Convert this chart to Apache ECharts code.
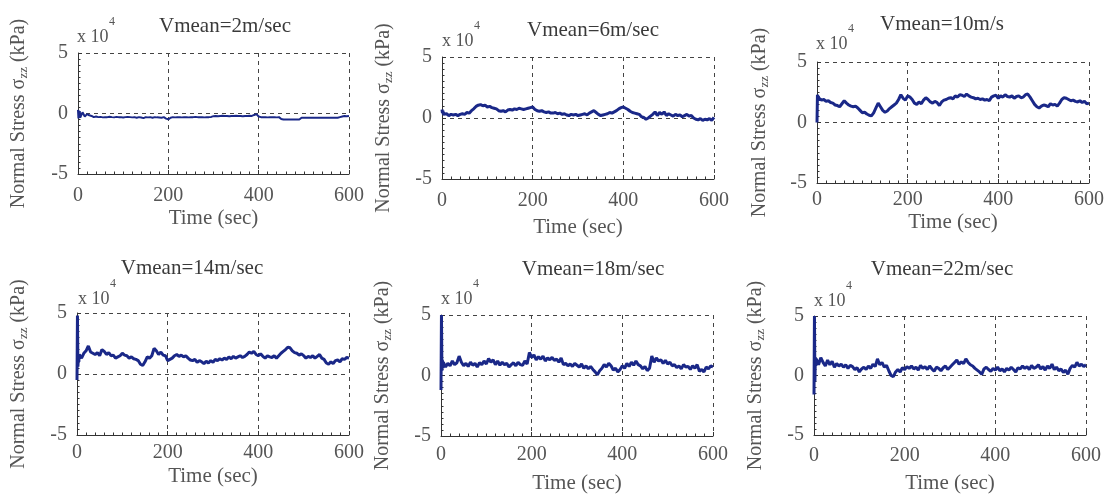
<!DOCTYPE html>
<html><head><meta charset="utf-8">
<script src="https://cdn.jsdelivr.net/npm/echarts/dist/echarts.min.js"></script>
<style>html,body{margin:0;padding:0;background:#fff;}#c{width:1107px;height:495px;}</style>
</head><body><div id="c"></div>
<script>
// time samples (sec)
const times = [0,1,2,3,4,
 5,10,15,20,25,30,35,40,45,50,55,60,
 65,70,75,80,85,90,95,100,105,110,115,120,
 125,130,135,140,145,150,155,160,165,170,175,180,
 185,190,195,200,205,210,215,220,225,230,235,240,
 245,250,255,260,265,270,275,280,285,290,295,300,
 305,310,315,320,325,330,335,340,345,350,355,360,
 365,370,375,380,385,390,395,400,405,410,415,420,
 425,430,435,440,445,450,455,460,465,470,475,480,
 485,490,495,500,505,510,515,520,525,530,535,540,
 545,550,555,560,565,570,575,580,585,590,595,600];

const titles = ['Vmean=2m/sec','Vmean=6m/sec','Vmean=10m/s','Vmean=14m/sec','Vmean=18m/sec','Vmean=22m/sec'];
const xTickValues = [0,200,400,600];
const yTickValues = [-5,0,5];

// normal stress, in units of 10^4 kPa
const v2 = [0.3,-0.4,0.25,-0.3,0.2,
 -0.35,0.1,-0.25,-0.05,-0.15,-0.2,-0.3,-0.25,-0.3,-0.28,-0.32,-0.3,
 -0.3,-0.27,-0.3,-0.32,-0.28,-0.3,-0.3,-0.33,-0.3,-0.28,-0.3,-0.32,
 -0.3,-0.35,-0.3,-0.33,-0.38,-0.3,-0.32,-0.3,-0.35,-0.3,-0.32,-0.33,
 -0.35,-0.3,-0.42,-0.48,-0.35,-0.3,-0.32,-0.3,-0.3,-0.32,-0.3,-0.3,
 -0.32,-0.3,-0.3,-0.28,-0.3,-0.3,-0.3,-0.32,-0.3,-0.3,-0.28,-0.22,
 -0.2,-0.22,-0.2,-0.18,-0.2,-0.2,-0.22,-0.2,-0.2,-0.18,-0.2,-0.2,
 -0.22,-0.2,-0.2,-0.18,-0.2,-0.12,-0.05,-0.25,-0.3,-0.3,-0.3,-0.32,
 -0.3,-0.3,-0.3,-0.32,-0.3,-0.45,-0.5,-0.5,-0.5,-0.5,-0.5,-0.5,
 -0.5,-0.5,-0.35,-0.35,-0.35,-0.35,-0.35,-0.35,-0.35,-0.35,-0.35,-0.35,
 -0.35,-0.35,-0.35,-0.35,-0.35,-0.35,-0.35,-0.3,-0.25,-0.2,-0.22,-0.2];
const v6 = [0.7,0.4,0.6,0.3,0.45,
 0.3,0.35,0.2,0.3,0.25,0.3,0.2,0.3,0.35,0.3,0.45,0.4,
 0.6,0.75,0.95,1.05,1.1,1.0,1.05,0.9,0.95,0.85,0.8,0.75,
 0.6,0.55,0.6,0.5,0.65,0.7,0.65,0.75,0.7,0.8,0.75,0.7,
 0.75,0.8,0.85,0.9,0.7,0.6,0.55,0.6,0.5,0.45,0.5,0.4,
 0.4,0.45,0.35,0.4,0.3,0.35,0.25,0.2,0.3,0.25,0.3,0.2,
 0.25,0.3,0.35,0.25,0.4,0.5,0.6,0.45,0.3,0.2,0.25,0.3,
 0.35,0.45,0.4,0.5,0.6,0.75,0.85,0.9,0.8,0.7,0.55,0.45,
 0.4,0.35,0.3,0.1,0.05,-0.1,0.0,0.15,0.3,0.5,0.2,0.45,
 0.3,0.5,0.2,0.35,0.25,0.15,0.3,0.2,0.25,0.1,0.2,0.3,
 0.15,0.2,0.0,-0.1,-0.15,-0.05,-0.2,-0.1,-0.15,-0.05,-0.2,0.05];
const v10 = [0.0,2.3,1.9,2.2,1.8,
 2.0,1.85,1.9,1.75,1.8,1.65,1.6,1.45,1.4,1.3,1.55,1.8,
 1.6,1.45,1.35,1.3,1.35,1.2,1.0,0.8,0.85,0.7,0.6,0.55,
 0.8,1.2,1.6,1.3,1.0,0.85,0.95,1.15,1.3,1.45,1.6,1.9,
 2.3,2.0,1.85,2.2,2.1,1.9,1.6,1.5,1.7,1.55,1.85,2.05,
 1.9,1.7,1.6,1.75,1.65,1.4,1.7,1.85,1.9,2.0,2.05,1.95,
 2.2,2.1,2.3,2.25,2.15,2.35,2.2,2.1,2.05,1.95,2.0,1.9,
 1.95,1.85,1.9,1.8,2.1,2.2,2.25,2.0,2.2,2.1,2.3,2.15,
 2.1,2.2,2.0,2.15,2.2,2.05,2.1,2.3,2.35,2.1,1.8,1.5,
 1.3,1.2,1.35,1.45,1.4,1.3,1.55,1.45,1.5,1.35,1.6,1.9,
 2.05,2.0,1.9,1.8,1.85,1.75,1.7,1.8,1.65,1.75,1.55,1.6];
const v14 = [-0.5,4.8,0.6,1.4,1.0,
 1.6,1.3,1.7,1.9,2.3,1.8,1.7,1.6,1.75,1.5,2.0,1.85,
 1.6,1.75,1.5,1.55,1.3,1.4,1.5,1.7,1.55,1.5,1.3,1.4,
 1.25,1.2,1.1,0.8,0.7,1.0,1.4,1.3,1.5,2.1,1.9,1.6,
 1.8,1.55,1.5,1.1,1.2,1.3,1.5,1.6,1.45,1.55,1.4,1.5,
 1.3,1.15,1.1,1.2,0.95,1.1,1.0,0.85,1.05,0.9,1.1,0.95,
 1.2,1.1,1.25,1.15,1.3,1.2,1.4,1.25,1.45,1.3,1.4,1.5,
 1.35,1.45,1.6,1.8,1.7,1.85,1.6,1.5,1.65,1.45,1.3,1.5,
 1.4,1.35,1.5,1.3,1.5,1.7,1.85,2.0,2.2,2.15,1.9,1.75,
 1.7,1.55,1.65,1.5,1.3,1.45,1.35,1.5,1.3,1.45,1.6,1.3,
 1.2,0.9,0.8,1.0,0.85,1.1,1.15,1.0,1.25,1.2,1.35,1.3];
const v18 = [-1.2,5.0,0.4,1.3,0.6,
 1.1,0.7,1.0,0.8,1.2,0.9,1.05,1.6,1.1,0.8,1.0,0.75,
 1.1,0.85,1.0,0.7,1.05,0.9,1.2,0.95,1.4,1.1,1.3,0.9,
 1.2,0.85,1.1,0.9,1.0,0.7,0.9,1.05,0.8,1.1,0.9,0.85,
 1.2,0.95,1.9,1.5,1.7,1.3,1.55,1.35,1.6,1.2,1.45,1.3,
 1.5,1.25,1.35,1.1,1.45,0.9,1.0,0.8,0.95,0.75,1.0,0.85,
 0.7,0.95,0.6,0.8,0.55,0.75,0.5,0.3,0.05,0.4,0.6,0.9,
 0.7,1.0,0.8,0.45,0.6,0.3,0.5,0.8,0.6,1.0,0.75,1.1,
 0.85,1.2,0.9,0.8,0.55,0.75,0.4,0.6,1.6,1.1,1.45,1.2,
 1.3,1.0,1.25,0.95,1.1,0.8,0.9,0.65,0.8,0.55,0.9,0.7,
 0.75,0.5,0.8,0.6,0.9,0.35,0.5,0.3,0.7,0.55,0.8,0.7];
const v22 = [-1.6,5.0,-0.5,1.5,0.8,
 1.4,0.9,1.5,1.1,0.8,1.3,0.9,1.2,0.7,1.0,0.8,0.95,
 0.7,0.9,0.6,0.85,0.75,0.5,0.65,0.3,0.55,0.7,0.5,0.8,
 0.6,0.95,0.75,1.4,0.9,1.1,0.7,0.85,0.4,0.0,-0.1,0.3,
 0.5,0.3,0.65,0.5,0.75,0.6,0.8,0.55,0.7,0.45,0.85,0.6,
 0.75,0.5,0.8,0.55,0.35,0.7,0.6,0.4,0.65,0.8,0.5,0.7,
 0.9,1.1,1.3,0.95,1.15,1.0,1.4,1.1,0.9,0.8,0.6,0.45,
 0.3,0.1,0.55,0.7,0.5,0.35,0.6,0.45,0.7,0.4,0.55,0.3,
 0.6,0.45,0.7,0.5,0.3,0.65,0.55,0.8,0.6,0.75,0.5,0.85,
 0.6,0.7,0.9,0.55,0.75,0.45,0.8,0.6,0.95,0.5,0.7,0.4,
 0.55,0.25,0.45,0.1,0.6,0.85,0.7,1.1,0.8,0.95,0.75,0.9];

const allValues = [v2, v6, v10, v14, v18, v22];

// layout per panel (pixels)
const panels = [
  {left:78,  top:53,  width:271, height:121, tx:220, tt:11,  xm:12, xg:34, yg:48, mx:77,  my:-10, lw:2},
  {left:442, top:57,  width:272, height:122, tx:588, tt:15,  xm:12, xg:38, yg:47, mx:442, my:-10, lw:3},
  {left:817, top:62,  width:272, height:121, tx:937, tt:9,   xm:7,  xg:29, yg:46, mx:816, my:-12, lw:3},
  {left:77,  top:313, width:272, height:122, tx:187, tt:253, xm:8,  xg:31, yg:47, mx:78,  my:-8,  lw:3},
  {left:441, top:315, width:272, height:122, tx:588, tt:254, xm:9,  xg:37, yg:47, mx:441, my:-10, lw:3},
  {left:814, top:316, width:272, height:122, tx:937, tt:254, xm:11, xg:38, yg:47, mx:814, my:-9,  lw:3}
];

const FONT = 'Liberation Serif';
const LINE = '#1a2888';
const AX = '#333';
const TXT = '#555';
const dash = {type:[4,4], color:'#444', width:1};

const grid=[], xAxis=[], yAxis=[], series=[], title=[], graphic=[];
panels.forEach((p,i)=>{
  grid.push({left:p.left, top:p.top, width:p.width, height:p.height, containLabel:false});
  xAxis.push({
    type:'value', gridIndex:i, min:0, max:600, interval:200,
    name:'Time (sec)', nameLocation:'middle', nameGap:p.xg,
    nameTextStyle:{fontFamily:FONT, fontSize:21, color:TXT},
    axisLine:{show:true, onZero:false, lineStyle:{color:AX, width:1}},
    axisTick:{show:true, inside:true, length:4, lineStyle:{color:AX}},
    minorTick:{show:true, splitNumber:10, length:2.5, lineStyle:{color:AX}},
    axisLabel:{fontFamily:FONT, fontSize:20, color:TXT, margin:p.xm},
    splitLine:{show:true, lineStyle:dash}
  });
  yAxis.push({
    type:'value', gridIndex:i, min:-5, max:5, interval:5,
    name:'Normal Stress σ{sub|zz} (kPa)', nameLocation:'middle', nameGap:p.yg, nameRotate:90,
    nameTextStyle:{fontFamily:FONT, fontSize:20, color:TXT,
      rich:{sub:{fontFamily:FONT, fontSize:13, color:TXT, padding:[10,0,0,0]}}},
    axisLine:{show:true, onZero:false, lineStyle:{color:AX, width:1}},
    axisTick:{show:true, inside:true, length:4, lineStyle:{color:AX}},
    minorTick:{show:true, splitNumber:10, length:2.5, lineStyle:{color:AX}},
    axisLabel:{fontFamily:FONT, fontSize:20, color:TXT, margin:10},
    splitLine:{show:true, lineStyle:dash}
  });
  series.push({
    type:'line', xAxisIndex:i, yAxisIndex:i, showSymbol:false, symbol:'none',
    lineStyle:{color:LINE, width:p.lw}, itemStyle:{color:LINE}, animation:false,
    data: times.map((t,k)=>[t, allValues[i][k]])
  });
  title.push({text:titles[i], left:p.tx, top:p.tt, textAlign:'center',
    textStyle:{fontFamily:FONT, fontSize:21, fontWeight:400, color:'#3a3a3a'}});
  graphic.push({type:'text', left:p.mx, top:p.top + p.my - 15,
    style:{text:'x 10', font:'18px "Liberation Serif"', fill:TXT}});
  graphic.push({type:'text', left:p.mx + 32, top:p.top + p.my - 27,
    style:{text:'4', font:'12px "Liberation Serif"', fill:TXT}});
});

const chart = echarts.init(document.getElementById('c'), null, {renderer:'canvas'});
chart.setOption({backgroundColor:'#fff', animation:false, grid, xAxis, yAxis, series, title, graphic});
</script></body></html>
